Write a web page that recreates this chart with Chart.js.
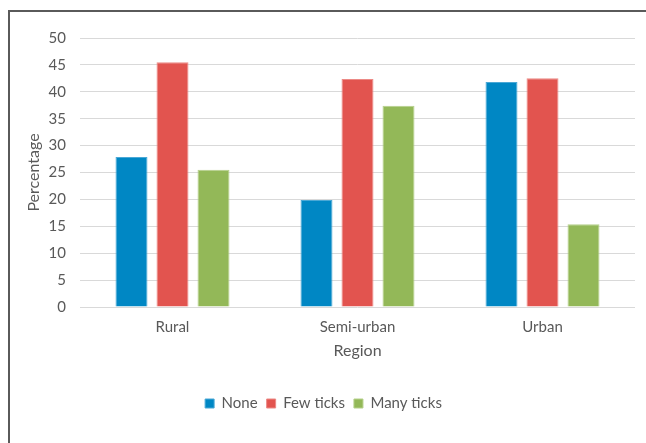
<!DOCTYPE html>
<html>
<head>
<meta charset="utf-8">
<script src="https://cdn.jsdelivr.net/npm/chart.js@4"></script>
<style>
  html, body { margin: 0; padding: 0; background: #fff; }
  #wrap { position: relative; width: 646px; height: 443px; }
  #frame { position: absolute; left: 8px; top: 10px; right: 0; bottom: 0;
           border-left: 2px solid #5a5a5a; border-top: 2px solid #5a5a5a; }
  canvas { position: absolute; left: 0; top: 0; }
</style>
</head>
<body>
<div id="wrap">
  <div id="frame"></div>
  <canvas id="myChart" width="646" height="443"></canvas>
</div>
<script>
// Datos del gráfico
const regiones = ['Rural', 'Semi-urban', 'Urban'];
const serieNone = [27.9, 19.9, 41.8];
const serieFew = [45.5, 42.4, 42.5];
const serieMany = [25.5, 37.4, 15.4];
const ticksY = [0, 5, 10, 15, 20, 25, 30, 35, 40, 45, 50];

const fuente = 'Lato, "Open Sans", sans-serif';
const gris = '#595959';

const ctx = document.getElementById('myChart').getContext('2d');

const myChart = new Chart(ctx, {
    type: 'bar',
    data: {
        labels: regiones,
        datasets: [
            { label: 'None', data: serieNone, backgroundColor: '#0087C4', borderColor: '#4aa8d6' },
            { label: 'Few ticks', data: serieFew, backgroundColor: '#E2544F', borderColor: '#ec8a86' },
            { label: 'Many ticks', data: serieMany, backgroundColor: '#93B858', borderColor: '#b5d08a' }
        ].map(d => Object.assign(d, { borderWidth: 1, categoryPercentage: 0.665, barPercentage: 0.78 }))
    },
    options: {
        responsive: false,
        animation: false,
        layout: { padding: { left: 12, right: 11, top: 38, bottom: 22 } },
        plugins: {
            legend: {
                position: 'bottom',
                labels: {
                    boxWidth: 9, boxHeight: 9, padding: 9,
                    color: gris, font: { family: fuente, size: 15 }
                }
            },
            tooltip: { enabled: false }
        },
        scales: {
            x: {
                grid: { display: false, drawTicks: false },
                border: { display: false },
                ticks: { color: gris, padding: 11, font: { family: fuente, size: 15 } },
                title: { display: true, text: 'Region', color: gris, padding: { top: 8, bottom: 27 }, font: { family: fuente, size: 16 } },
                afterFit: s => { s.height = 80; }
            },
            y: {
                min: 0, max: 50,
                afterBuildTicks: s => { s.ticks = ticksY.map(v => ({ value: v })); },
                grid: { color: '#d9d9d9', lineWidth: 1, drawTicks: false },
                border: { display: false },
                ticks: { color: gris, padding: 14, font: { family: fuente, size: 15 } },
                title: { display: true, text: 'Percentage', color: gris, padding: { top: 12 }, font: { family: fuente, size: 16 } },
                afterFit: s => { s.width = 68; }
            }
        }
    }
});
</script>
</body>
</html>
